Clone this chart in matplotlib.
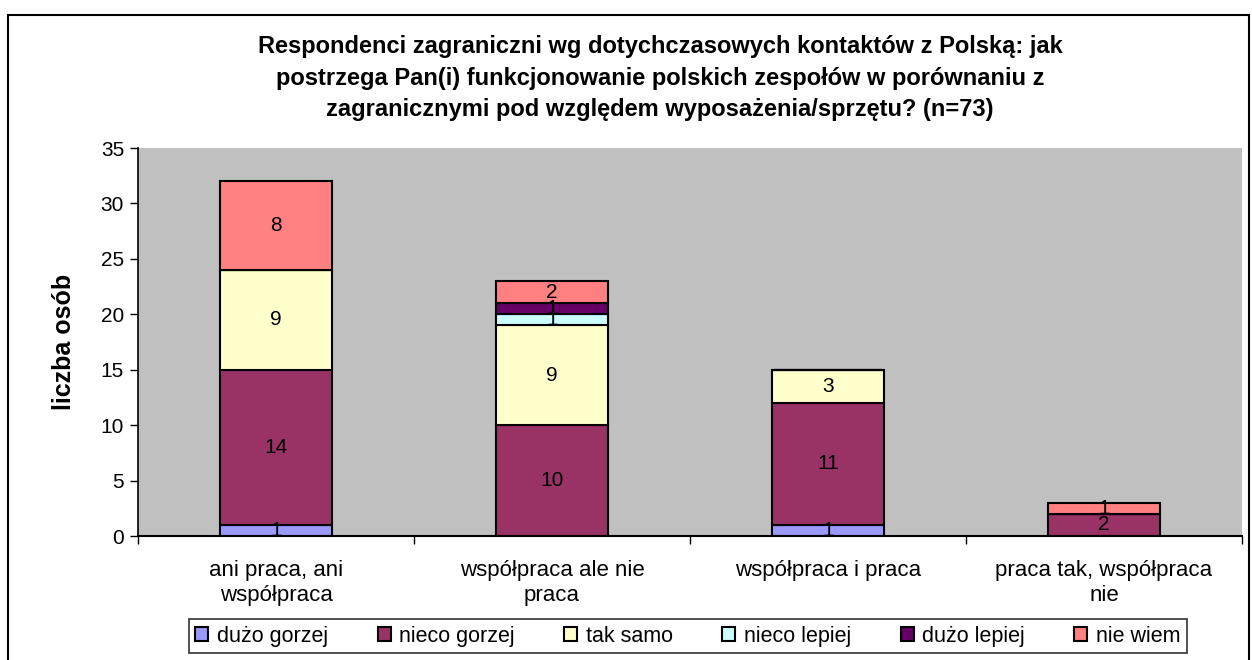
import numpy as np
import matplotlib.pyplot as plt
from matplotlib.patches import Rectangle

plt.rcParams['font.family'] = ['Liberation Sans', 'DejaVu Sans']

categories = ["ani praca, ani\nwspółpraca", "współpraca ale nie\npraca",
              "współpraca i praca", "praca tak, współpraca\nnie"]
series_names = ["dużo gorzej", "nieco gorzej", "tak samo",
                "nieco lepiej", "dużo lepiej", "nie wiem"]
duzo_gorzej = [1, 0, 1, 0]
nieco_gorzej = [14, 10, 11, 2]
tak_samo = [9, 9, 3, 0]
nieco_lepiej = [0, 1, 0, 0]
duzo_lepiej = [0, 1, 0, 0]
nie_wiem = [8, 2, 0, 1]
colors = ["#9999FF", "#993366", "#FFFFCC", "#CCFFFF", "#660066", "#FF8080"]

series = [duzo_gorzej, nieco_gorzej, tak_samo, nieco_lepiej, duzo_lepiej, nie_wiem]

fig = plt.figure(figsize=(12.52, 6.6), dpi=100)
ax = fig.add_axes([138 / 1252, 1 - 536 / 660, 1104 / 1252, 388 / 660])
ax.set_facecolor("#C0C0C0")

x = np.arange(len(categories))
bottom = np.zeros(len(categories))
for name, vals, col in zip(series_names, series, colors):
    vals = np.array(vals, dtype=float)
    ax.bar(x, vals, 0.405, bottom=bottom, color=col, edgecolor="black",
           linewidth=1.5, label=name, zorder=2)
    for xi, v, b in zip(x, vals, bottom):
        if v > 0:
            ax.text(xi, b + v / 2, f"{int(v)}", ha="center", va="center",
                    fontsize=15, zorder=3)
    bottom += vals

ax.set_xlim(-0.5, len(categories) - 0.5)
ax.set_ylim(0, 35)
ax.set_yticks(range(0, 36, 5))
ax.tick_params(axis="y", labelsize=15, length=6, width=1, pad=4)
ax.set_xticks(x)
ax.set_xticklabels(categories, fontsize=16, linespacing=1.25)
ax.tick_params(axis="x", length=0, pad=17)
# category boundary ticks
ax.set_xticks(np.arange(-0.5, len(categories)), minor=True)
ax.tick_params(axis="x", which="minor", length=6, width=1)
for side in ["top", "right"]:
    ax.spines[side].set_visible(False)
ax.spines["left"].set_linewidth(1.2)
ax.spines["bottom"].set_linewidth(1.5)

ax.set_ylabel("liczba osób", fontsize=18, fontweight="bold", labelpad=18)

fig.text(660 / 1252, 1 - 78 / 660,
         "Respondenci zagraniczni wg dotychczasowych kontaktów z Polską: jak\n"
         "postrzega Pan(i) funkcjonowanie polskich zespołów w porównaniu z\n"
         "zagranicznymi pod względem wyposażenia/sprzętu? (n=73)",
         ha="center", va="center", fontsize=17, fontweight="bold",
         linespacing=1.45)

leg = fig.legend(loc="lower left", bbox_to_anchor=(189 / 1252, 7 / 660),
                 borderaxespad=0, ncol=6, fontsize=15.5, frameon=True,
                 handlelength=0.6, handleheight=0.6, handletextpad=0.4,
                 columnspacing=2.3, borderpad=0.3, fancybox=False,
                 edgecolor="black")
leg.get_frame().set_linewidth(1.2)

# outer chart frame
fig.patches.append(Rectangle((8 / 1252, -0.01), 1241 / 1252, 1 - 15 / 660 + 0.01,
                             transform=fig.transFigure, fill=False,
                             edgecolor="black", linewidth=1.5))

plt.savefig("out.png", dpi=100)
